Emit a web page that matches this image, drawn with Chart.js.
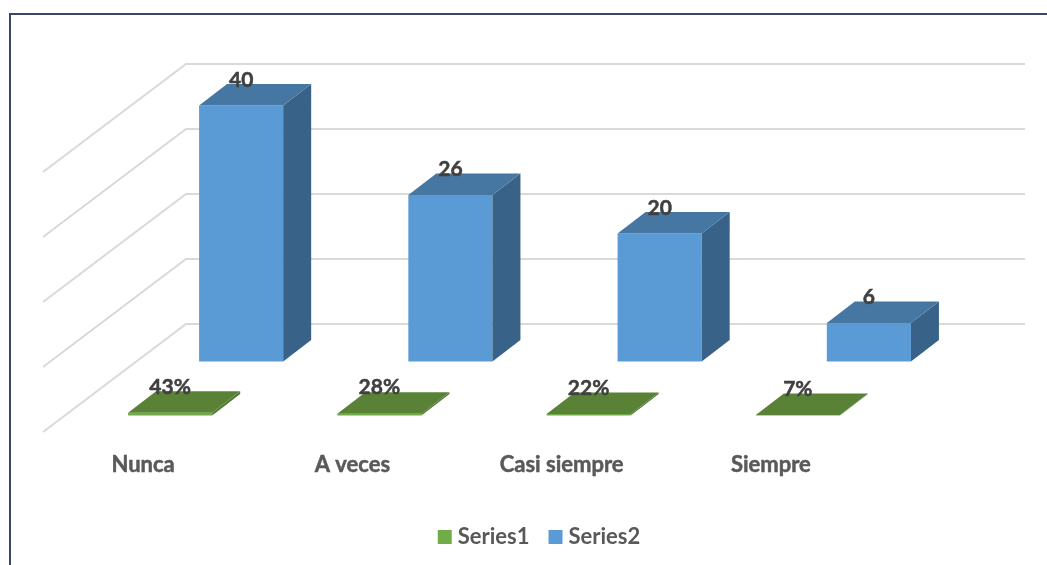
<!DOCTYPE html>
<html>
<head>
<meta charset="utf-8">
<style>html,body{margin:0;padding:0;background:#fff}canvas{display:block}</style>
<script src="https://cdn.jsdelivr.net/npm/chart.js@4/dist/chart.umd.min.js"></script>
</head>
<body>
<canvas id="c" width="1047" height="565"></canvas>
<script>
const categories = ['Nunca', 'A veces', 'Casi siempre', 'Siempre'];
const series1Values = [0.43, 0.28, 0.22, 0.07];
const series2Values = [40, 26, 20, 6];
const series1Labels = ['43%', '28%', '22%', '7%'];
const series2Labels = ['40', '26', '20', '6'];
const wallTicks = [0, 10, 20, 30, 40];

const FONT = 'Lato, Carlito, sans-serif';
const perspective = {
  Series1: { dx: 27, dy: -16.5, top: '#5a8236', side: '#517a32', labels: series1Labels, labelUp: 26 },
  Series2: { dx: 98, dy: -70.5, top: '#4676a2', side: '#386287', labels: series2Labels, labelUp: 25.5 }
};
const depth = { x: 28, y: -21.5 };
const wall = { dx: 147.5, dy: -108, extra: 149.5, inset: 4.5 };
const legendPadding = 24;

const bar3d = {
  id: 'bar3d',
  beforeDraw(chart) {
    const c = chart.ctx;
    c.save();
    c.strokeStyle = '#3a4766';
    c.lineWidth = 2;
    c.beginPath();
    c.moveTo(10, 565); c.lineTo(10, 14); c.lineTo(1047, 14);
    c.stroke();
    c.restore();
  },
  afterLayout(chart) {
    const l = chart.legend;
    const shift = 541.5 - (l.left + l.right) / 2;
    l.left += shift; l.right += shift;
    const h = l.bottom - l.top;
    l.top = 526 - legendPadding; l.bottom = l.top + h;
  },
  beforeDatasetsDraw(chart) {
    const c = chart.ctx, a = chart.chartArea, s = chart.scales.wall;
    c.save();
    c.strokeStyle = '#d9d9d9';
    c.lineWidth = 2;
    wallTicks.forEach(t => {
      const y = s.getPixelForValue(t);
      c.beginPath();
      c.moveTo(a.left + wall.inset, y);
      c.lineTo(a.left + wall.dx, y + wall.dy);
      c.lineTo(a.right + wall.extra, y + wall.dy);
      c.stroke();
    });
    c.restore();
  },
  beforeDatasetDraw(chart, args) {
    const p = perspective[chart.data.datasets[args.index].label];
    chart.ctx.save();
    chart.ctx.translate(p.dx, p.dy);
  },
  afterDatasetDraw(chart, args) {
    const c = chart.ctx;
    const p = perspective[chart.data.datasets[args.index].label];
    args.meta.data.forEach(el => {
      const hw = el.width / 2, L = el.x - hw, R = el.x + hw;
      const T = el.y, B = el.base;
      c.fillStyle = p.side;
      c.beginPath();
      c.moveTo(R, T); c.lineTo(R + depth.x, T + depth.y);
      c.lineTo(R + depth.x, B + depth.y); c.lineTo(R, B);
      c.closePath(); c.fill();
      c.fillStyle = p.top;
      c.beginPath();
      c.moveTo(L, T); c.lineTo(R, T);
      c.lineTo(R + depth.x, T + depth.y); c.lineTo(L + depth.x, T + depth.y);
      c.closePath(); c.fill();
    });
    c.restore();
  },
  afterDatasetsDraw(chart) {
    const c = chart.ctx;
    c.save();
    c.fillStyle = '#404040';
    c.strokeStyle = '#404040';
    c.lineWidth = 0.5;
    c.font = 'bold 21px ' + FONT;
    c.textAlign = 'center';
    c.textBaseline = 'middle';
    chart.data.datasets.forEach((ds, i) => {
      const p = perspective[ds.label];
      chart.getDatasetMeta(i).data.forEach((el, j) => {
        const tx = el.x + p.dx, ty = el.y + p.dy - p.labelUp;
        c.strokeText(p.labels[j], tx, ty);
        c.fillText(p.labels[j], tx, ty);
      });
    });
    c.restore();
  }
};

new Chart(document.getElementById('c'), {
  type: 'bar',
  data: {
    labels: categories,
    datasets: [
      { label: 'Series1', data: series1Values, backgroundColor: '#70AD47', yAxisID: 'y', grouped: false, clip: false },
      { label: 'Series2', data: series2Values, backgroundColor: '#5B9BD5', yAxisID: 'y', grouped: false, clip: false }
    ]
  },
  plugins: [bar3d],
  options: {
    responsive: false,
    animation: false,
    devicePixelRatio: 1,
    layout: { autoPadding: false, padding: { left: 38.5, right: 171.5, top: 172, bottom: 0 } },
    categoryPercentage: 1,
    barPercentage: 84 / 209,
    scales: {
      x: {
        grid: { display: false },
        border: { display: false },
        afterFit(s) { s.height = 133 - (s.chart.legend ? s.chart.legend.height : 0); },
        ticks: { color: '#595959', font: { family: FONT, size: 22, weight: 'bold' }, padding: 12, maxRotation: 0, autoSkip: false, textStrokeColor: '#595959', textStrokeWidth: 0.5 }
      },
      y: { display: false, min: 0, max: 40.625 },
      wall: { display: false, min: 0, max: 40, position: 'left' }
    },
    plugins: {
      title: { display: false },
      tooltip: { enabled: false },
      legend: {
        position: 'bottom',
        labels: {
          color: '#595959',
          font: { family: FONT, size: 22, weight: 'bold' },
          usePointStyle: true,
          pointStyle: 'rect',
          boxWidth: 4,
          boxHeight: 14,
          padding: legendPadding
        }
      }
    }
  }
});
</script>
</body>
</html>
